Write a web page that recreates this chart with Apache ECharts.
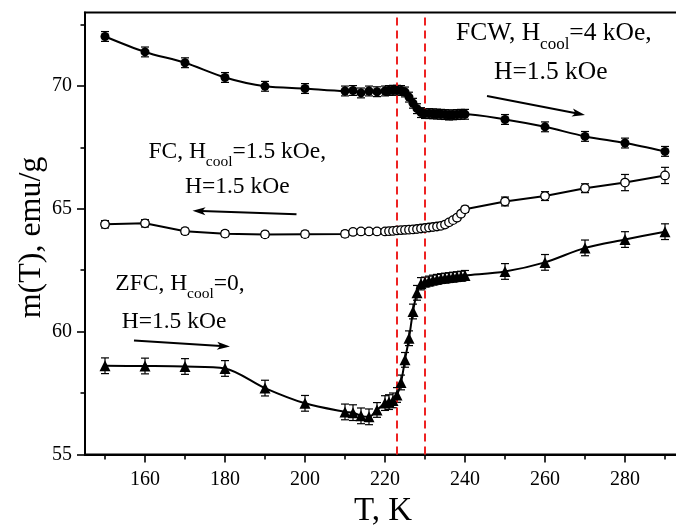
<!DOCTYPE html>
<html><head><meta charset="utf-8">
<script src="https://cdn.jsdelivr.net/npm/echarts@6/dist/echarts.min.js"></script>
<style>html,body{margin:0;padding:0;background:#fff;overflow:hidden}#c{width:676px;height:526px}</style>
</head><body><div id="c"></div>
<script>
// ---- data ----
const fcwT = [150,160,170,180,190,200,210,212,214,216,218,220,221,222,223,224,225,226,227,228,229,230,231,232,233,234,235,236,237,238,239,240,250,260,270,280,290];
const fcwM = [72.02,71.39,70.95,70.35,69.99,69.90,69.80,69.82,69.72,69.80,69.77,69.80,69.82,69.83,69.83,69.82,69.76,69.55,69.30,69.08,68.92,68.88,68.88,68.87,68.86,68.85,68.84,68.82,68.83,68.84,68.85,68.85,68.64,68.34,67.95,67.68,67.34];
const fcwErr = [0.2,0.2,0.2,0.2,0.2,0.2,0.2,0.2,0.2,0.2,0.2,0.2,0.2,0.2,0.2,0.2,0.2,0.2,0.2,0.2,0.2,0.2,0.2,0.2,0.2,0.2,0.2,0.2,0.2,0.2,0.2,0.2,0.2,0.2,0.2,0.2,0.2];

const fcT = [150,160,170,180,190,200,210,212,214,216,218,220,221,222,223,224,225,226,227,228,229,230,231,232,233,234,235,236,237,238,239,240,250,260,270,280,290];
const fcM = [64.37,64.41,64.09,63.99,63.96,63.97,63.98,64.06,64.08,64.08,64.08,64.08,64.09,64.10,64.12,64.13,64.14,64.15,64.16,64.18,64.20,64.22,64.24,64.26,64.28,64.31,64.36,64.45,64.54,64.64,64.80,64.98,65.30,65.52,65.84,66.07,66.36];
const fcErr = [0.15,0.15,0.12,0.12,0.12,0.12,0.12,0.1,0.1,0.1,0.1,0.1,0.1,0.1,0.1,0.1,0.1,0.1,0.1,0.1,0.1,0.1,0.1,0.1,0.1,0.1,0.1,0.1,0.1,0.1,0.1,0.12,0.18,0.18,0.18,0.33,0.33];

const zfcT = [150,160,170,180,190,200,210,212,214,216,218,220,221,222,223,224,225,226,227,228,229,230,231,232,233,234,235,236,237,238,239,240,250,260,270,280,290];
const zfcM = [58.61,58.60,58.58,58.50,57.70,57.08,56.73,56.70,56.57,56.53,56.81,57.09,57.13,57.20,57.42,57.93,58.85,59.73,60.82,61.58,61.95,62.02,62.06,62.10,62.13,62.16,62.18,62.20,62.22,62.24,62.26,62.29,62.45,62.82,63.41,63.75,64.07];
const zfcErr = [0.32,0.32,0.32,0.32,0.32,0.32,0.32,0.32,0.32,0.32,0.3,0.3,0.3,0.3,0.3,0.3,0.3,0.3,0.3,0.3,0.25,0.2,0.2,0.2,0.2,0.2,0.2,0.2,0.2,0.2,0.2,0.2,0.32,0.32,0.32,0.32,0.32];

const transitionT = [223, 230];
const xMajorTicks = [160,180,200,220,240,260,280];
const xMinorTicks = [150,170,190,210,230,250,270,290];
const yMajorTicks = [55,60,65,70];
const yMinorTicks = [57.5,62.5,67.5,72.5];

// ---- helpers ----
const FONT = '"Liberation Serif", "Times New Roman", serif';
const mctx = document.createElement('canvas').getContext('2d');
function tw(str, size){ mctx.font = size + 'px ' + FONT; return mctx.measureText(str).width; }
function textLine(x, base, parts){
  const els = []; let cx = x;
  parts.forEach(function(p){
    const t = p[0], s = p[1], dy = p[2] || 0;
    els.push({type:'text', x:cx, y: base + dy - 0.32*s, z: 50,
      style:{text:t, font: s + 'px ' + FONT, fill:'#000', textAlign:'left', textVerticalAlign:'middle'}});
    cx += tw(t, s);
  });
  return els;
}
function arrow(x1,y1,x2,y2){
  const a = Math.atan2(y2-y1, x2-x1), L = 13, H = 4;
  const bx = x2 - L*Math.cos(a), by = y2 - L*Math.sin(a);
  const px = -Math.sin(a)*H, py = Math.cos(a)*H;
  return [
    {type:'line', z:50, shape:{x1:x1,y1:y1,x2:bx+(x2-bx)*0.3,y2:by+(y2-by)*0.3}, style:{stroke:'#000', lineWidth:2}},
    {type:'polygon', z:50, shape:{points:[[x2,y2],[bx+px,by+py],[bx+(x2-bx)*0.25,by+(y2-by)*0.25],[bx-px,by-py]]}, style:{fill:'#000'}}
  ];
}
function zip(T, M, E){ return T.map(function(t,i){ return [t, M[i], E[i]]; }); }
function errRender(params, api){
  const x = api.value(0), y = api.value(1), e = api.value(2);
  const hi = api.coord([x, y+e]), lo = api.coord([x, y-e]);
  const w = 4, st = {stroke:'#000', lineWidth:1.2};
  return {type:'group', children:[
    {type:'line', shape:{x1:hi[0],y1:hi[1],x2:lo[0],y2:lo[1]}, style:st},
    {type:'line', shape:{x1:hi[0]-w,y1:hi[1],x2:hi[0]+w,y2:hi[1]}, style:st},
    {type:'line', shape:{x1:lo[0]-w,y1:lo[1],x2:lo[0]+w,y2:lo[1]}, style:st}
  ]};
}

const X_MIN = 145, X_MAX = 300, Y_MIN = 55, Y_MAX = 73;
const gridRect = {left:85, top:12.4, width:620, height:442, outerBoundsMode:'none', containLabel:false};

const chart = echarts.init(document.getElementById('c'), null, {renderer:'canvas'});

const graphics = [].concat(
  textLine(456, 41.7, [['FCW, H',25.5],['cool',17,8.3],['=4 kOe,',25.5]]),
  textLine(494, 80, [['H=1.5 kOe',25.5]]),
  arrow(487, 96, 585, 115),
  textLine(148.4, 159, [['FC, H',23.5],['cool',15.5,7.5],['=1.5 kOe,',23.5]]),
  textLine(185, 194, [['H=1.5 kOe',23.5]]),
  arrow(296.5, 214.3, 192.5, 210.7),
  textLine(115.3, 291.5, [['ZFC, H',23.5],['cool',15.5,7.5],['=0,',23.5]]),
  textLine(121.7, 329.3, [['H=1.5 kOe',23.5]]),
  arrow(134, 340.5, 230, 346.5),
  [
    {type:'text', x:383, y:521.5 - 0.32*33, z:50, style:{text:'T, K', font:'33px ' + FONT, fill:'#000', textAlign:'center', textVerticalAlign:'middle'}},
    {type:'text', x:41.5 - 0.32*32, y:237.5, rotation:Math.PI/2, z:50, style:{text:'m(T), emu/g', font:'32px ' + FONT, fill:'#000', textAlign:'center', textVerticalAlign:'middle'}}
  ]
);

const lineCommon = {type:'line', xAxisIndex:0, yAxisIndex:0, showSymbol:true, showAllSymbol:true, z:5, animation:false};

chart.setOption({
  animation:false,
  backgroundColor:'#fff',
  grid:[
    Object.assign({show:true, borderColor:'#000', borderWidth:2, backgroundColor:'transparent'}, gridRect),
    Object.assign({show:false}, gridRect)
  ],
  xAxis:[
    {type:'value', gridIndex:0, min:X_MIN, max:X_MAX,
     axisLine:{show:true, lineStyle:{color:'#000', width:2}},
     axisTick:{show:true, customValues:xMajorTicks, length:8, lineStyle:{color:'#000', width:1.6}},
     axisLabel:{show:true, customValues:xMajorTicks, margin:15, color:'#000', fontFamily:FONT, fontSize:20},
     splitLine:{show:false}},
    {type:'value', gridIndex:1, min:X_MIN, max:X_MAX,
     axisLine:{show:false},
     axisTick:{show:true, customValues:xMinorTicks, length:5, lineStyle:{color:'#000', width:1.6}},
     axisLabel:{show:false}, splitLine:{show:false}}
  ],
  yAxis:[
    {type:'value', gridIndex:0, min:Y_MIN, max:Y_MAX,
     axisLine:{show:true, lineStyle:{color:'#000', width:2}},
     axisTick:{show:true, customValues:yMajorTicks, length:8, lineStyle:{color:'#000', width:1.6}},
     axisLabel:{show:true, customValues:yMajorTicks, margin:13, color:'#000', fontFamily:FONT, fontSize:20},
     splitLine:{show:false}},
    {type:'value', gridIndex:1, min:Y_MIN, max:Y_MAX,
     axisLine:{show:false},
     axisTick:{show:true, customValues:yMinorTicks, length:4.5, lineStyle:{color:'#000', width:1.6}},
     axisLabel:{show:false}, splitLine:{show:false}}
  ],
  graphic: graphics,
  series:[
    {type:'custom', xAxisIndex:0, yAxisIndex:0, renderItem:errRender, data:zip(fcwT,fcwM,fcwErr), encode:{x:0,y:1}, z:3, silent:true},
    {type:'custom', xAxisIndex:0, yAxisIndex:0, renderItem:errRender, data:zip(fcT,fcM,fcErr), encode:{x:0,y:1}, z:3, silent:true},
    {type:'custom', xAxisIndex:0, yAxisIndex:0, renderItem:errRender, data:zip(zfcT,zfcM,zfcErr), encode:{x:0,y:1}, z:3, silent:true},
    Object.assign({}, lineCommon, {name:'FCW', data:fcwT.map(function(t,i){return [t,fcwM[i]];}),
      symbol:'circle', symbolSize:9, smooth:0.3,
      itemStyle:{color:'#000'}, lineStyle:{color:'#000', width:2}}),
    Object.assign({}, lineCommon, {name:'FC', data:fcT.map(function(t,i){return [t,fcM[i]];}),
      symbol:'circle', symbolSize:8.5, smooth:false,
      itemStyle:{color:'#fff', borderColor:'#000', borderWidth:1.3}, lineStyle:{color:'#000', width:2}}),
    Object.assign({}, lineCommon, {name:'ZFC', data:zfcT.map(function(t,i){return [t,zfcM[i]];}),
      symbol:'triangle', symbolSize:11, smooth:0.3,
      itemStyle:{color:'#000'}, lineStyle:{color:'#000', width:2},
      markLine:{silent:true, symbol:['none','none'], label:{show:false}, animation:false,
        lineStyle:{color:'#ee2222', type:[8,5], width:2},
        data: transitionT.map(function(t){ return {xAxis:t}; })}})
  ]
});
</script>
</body></html>
